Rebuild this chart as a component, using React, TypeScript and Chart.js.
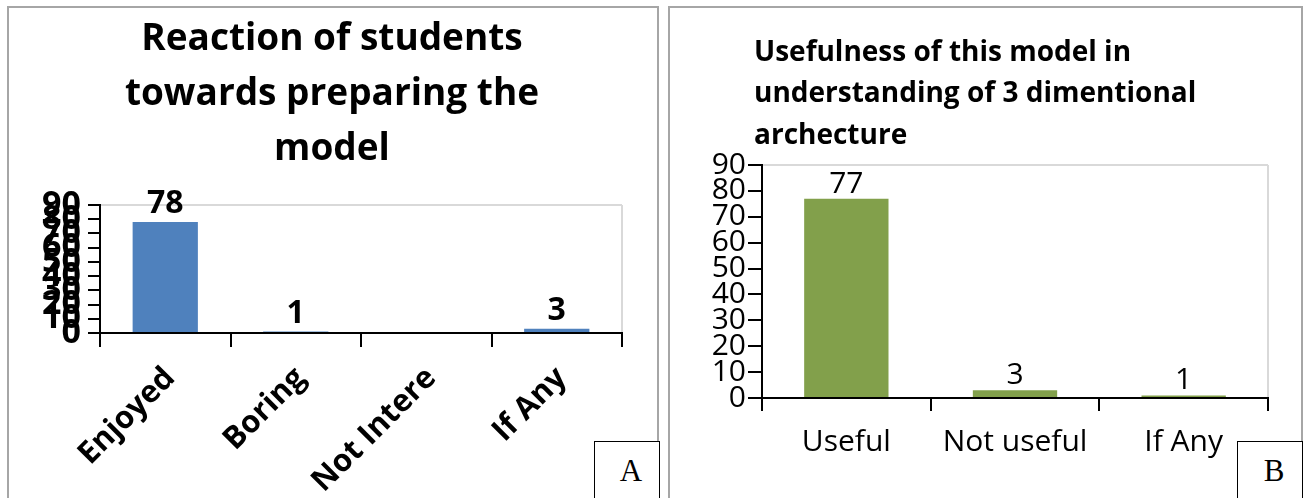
import React, { useEffect, useRef } from 'react';
import { Chart, registerables } from 'chart.js';

Chart.register(...registerables);

// ---- Data ----
const titleA = ['Reaction of students', 'towards preparing the', 'model'];
const categoriesA = ['Enjoyed', 'Boring', 'Not Intere', 'If Any'];
const valuesA: (number | null)[] = [78, 1, null, 3];

const titleB = ['Usefulness of this model in', 'understanding of 3 dimentional', 'archecture'];
const categoriesB = ['Useful', 'Not useful', 'If Any'];
const valuesB: (number | null)[] = [77, 3, 1];

const yMin = 0;
const yMax = 90;
const yStep = 10;

const panelLetters = ['A', 'B'];

// ---- Plugin: value labels above bars ----
const valueLabels = {
  id: 'valueLabels',
  afterDatasetsDraw(chart: any, _args: any, opts: any) {
    const ctx = chart.ctx;
    chart.data.datasets.forEach((ds: any, di: number) => {
      const meta = chart.getDatasetMeta(di);
      meta.data.forEach((el: any, i: number) => {
        const v = ds.data[i];
        if (v == null) return;
        ctx.save();
        ctx.font = opts.font;
        ctx.fillStyle = '#000';
        ctx.textAlign = 'center';
        ctx.textBaseline = 'alphabetic';
        ctx.fillText(String(v), el.x, el.y - opts.gap);
        ctx.restore();
      });
    });
  },
};

// ---- Plugin: shift the title block horizontally ----
const titleOffset = {
  id: 'titleOffset',
  afterLayout(chart: any, _args: any, opts: any) {
    const tb = chart.titleBlock;
    if (tb && opts && typeof opts.dx === 'number') {
      tb.left += opts.dx;
      tb.right += opts.dx;
    }
  },
};

const FONT = '"Open Sans", "DejaVu Sans", sans-serif';

function makeConfigA(): any {
  return {
    type: 'bar',
    data: {
      labels: categoriesA,
      datasets: [
        {
          data: valuesA,
          backgroundColor: '#4F81BD',
          barPercentage: 0.5,
          categoryPercentage: 1,
        },
      ],
    },
    plugins: [valueLabels, titleOffset],
    options: {
      responsive: false,
      maintainAspectRatio: false,
      animation: false,
      layout: { padding: { left: 34, right: 34, top: 0, bottom: 0 } },
      plugins: {
        legend: { display: false },
        tooltip: { enabled: false },
        title: {
          display: true,
          text: titleA,
          color: '#000',
          font: { family: FONT, size: 37, weight: 'bold', lineHeight: 55 / 37 },
          padding: { top: 2, bottom: 28 },
        },
        titleOffset: { dx: 6 },
        valueLabels: { font: `bold 32px ${FONT}`, gap: 9 },
      },
      scales: {
        x: {
          grid: {
            offset: true,
            color: (c: any) => (c.type === 'tick' ? 'rgba(0,0,0,0)' : '#d9d9d9'),
            tickColor: '#000',
            lineWidth: 2,
            tickLength: 14,
          },
          border: { color: '#000', width: 2 },
          ticks: {
            color: '#000',
            font: { family: FONT, size: 31, weight: 'bold' },
            minRotation: 45,
            maxRotation: 45,
            autoSkip: false,
            padding: 13,
            labelOffset: 5,
          },
          afterFit: (s: any) => {
            s.height = 165;
          },
        },
        y: {
          min: yMin,
          max: yMax,
          grid: {
            color: (c: any) => (c.tick && c.tick.value === yMax ? '#d9d9d9' : 'rgba(0,0,0,0)'),
            tickColor: '#000',
            lineWidth: 2,
            tickLength: 12,
          },
          border: { color: '#000', width: 2 },
          ticks: {
            stepSize: yStep,
            autoSkip: false,
            color: '#000',
            font: { family: FONT, size: 34, weight: 'bold' },
            padding: 7,
          },
          afterFit: (s: any) => {
            s.width = 70;
          },
        },
      },
    },
  };
}

function makeConfigB(): any {
  return {
    type: 'bar',
    data: {
      labels: categoriesB,
      datasets: [
        {
          data: valuesB,
          backgroundColor: '#82A04B',
          barPercentage: 0.5,
          categoryPercentage: 1,
        },
      ],
    },
    plugins: [valueLabels, titleOffset],
    options: {
      responsive: false,
      maintainAspectRatio: false,
      animation: false,
      layout: { padding: { left: 20, right: 32, top: 0, bottom: 0 } },
      plugins: {
        legend: { display: false },
        tooltip: { enabled: false },
        title: {
          display: true,
          align: 'start',
          text: titleB,
          color: '#000',
          font: { family: FONT, size: 28, weight: 'bold', lineHeight: 41.5 / 28 },
          padding: { top: 22, bottom: 8.5 },
        },
        titleOffset: { dx: 62 },
        valueLabels: { font: `30px ${FONT}`, gap: 6 },
      },
      scales: {
        x: {
          grid: {
            offset: true,
            color: (c: any) => (c.type === 'tick' ? 'rgba(0,0,0,0)' : '#d9d9d9'),
            tickColor: '#000',
            lineWidth: 2,
            tickLength: 13,
          },
          border: { color: '#000', width: 2 },
          ticks: {
            color: '#000',
            font: { family: FONT, size: 30 },
            maxRotation: 0,
            minRotation: 0,
            autoSkip: false,
            padding: 13,
          },
          afterFit: (s: any) => {
            s.height = 100;
          },
        },
        y: {
          min: yMin,
          max: yMax,
          grid: {
            color: (c: any) => (c.tick && c.tick.value === yMax ? '#d9d9d9' : 'rgba(0,0,0,0)'),
            tickColor: '#000',
            lineWidth: 2,
            tickLength: 14,
          },
          border: { color: '#000', width: 2 },
          ticks: {
            stepSize: yStep,
            autoSkip: false,
            color: '#000',
            font: { family: FONT, size: 30 },
            padding: 2,
          },
          afterFit: (s: any) => {
            s.width = 70;
          },
        },
      },
    },
  };
}

function ChartCanvas({ config, left, top, width, height }: any) {
  const ref = useRef<HTMLCanvasElement | null>(null);
  useEffect(() => {
    if (!ref.current) return;
    const chart = new Chart(ref.current, config());
    let alive = true;
    if ((document as any).fonts && (document as any).fonts.ready) {
      (document as any).fonts.ready.then(() => {
        if (alive) chart.update();
      });
    }
    return () => {
      alive = false;
      chart.destroy();
    };
  }, []);
  return (
    <canvas
      ref={ref}
      width={width}
      height={height}
      style={{ position: 'absolute', left, top, width, height }}
    />
  );
}

const panelBorder = '2px solid #a6a6a6';

export default function App() {
  return (
    <div
      style={{
        position: 'absolute',
        left: 0,
        top: 0,
        width: 1306,
        height: 498,
        overflow: 'hidden',
        background: '#fff',
      }}
    >
      {/* Panel frames */}
      <div
        style={{
          position: 'absolute',
          left: 7,
          top: 6,
          width: 652,
          height: 520,
          borderLeft: panelBorder,
          borderTop: panelBorder,
          borderRight: panelBorder,
          boxSizing: 'border-box',
        }}
      />
      <div
        style={{
          position: 'absolute',
          left: 668,
          top: 6,
          width: 635,
          height: 520,
          borderLeft: panelBorder,
          borderTop: panelBorder,
          borderRight: panelBorder,
          boxSizing: 'border-box',
        }}
      />
      <ChartCanvas config={makeConfigA} left={-4} top={10} width={660} height={488} />
      <ChartCanvas config={makeConfigB} left={672} top={10} width={628} height={488} />
      {/* Letter boxes */}
      {[594, 1237].map((x, i) => (
        <div
          key={i}
          style={{
            position: 'absolute',
            left: x,
            top: 441,
            width: 66,
            height: 70,
            border: '1px solid #000',
            background: '#fff',
            boxSizing: 'border-box',
            fontFamily: '"Liberation Serif", serif',
            fontSize: 31,
            lineHeight: '58px',
            textAlign: 'center',
            paddingLeft: 8,
            color: '#000',
          }}
        >
          {panelLetters[i]}
        </div>
      ))}
    </div>
  );
}
